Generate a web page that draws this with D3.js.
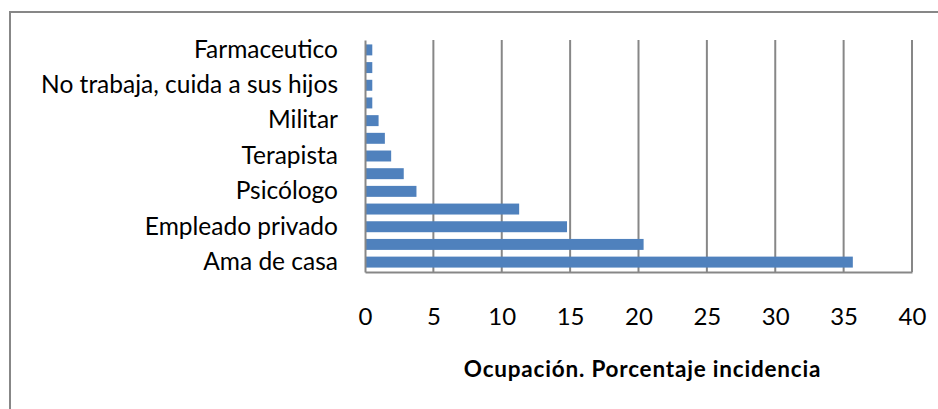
<!DOCTYPE html>
<html>
<head>
<meta charset="utf-8">
<title>Ocupación</title>
<script src="https://d3js.org/d3.v7.min.js"></script>
<style>
  body { margin: 0; background: #fff; }
  text { font-family: Lato, "Open Sans", sans-serif; fill: #000; }
</style>
</head>
<body>
<script>
// categorías de arriba hacia abajo (las sin rótulo visible quedan en blanco)
var categories = ["Farmaceutico", "", "No trabaja, cuida a sus hijos", "", "Militar", "",
                  "Terapista", "", "Psicólogo", "", "Empleado privado", "", "Ama de casa"];
// porcentaje de incidencia
var values = [0.46, 0.46, 0.46, 0.46, 0.92, 1.38, 1.84, 2.76, 3.69, 11.2, 14.7, 20.3, 35.6];
var xTicks = [0, 5, 10, 15, 20, 25, 30, 35, 40];
var xTitle = "Ocupación. Porcentaje incidencia";

var W = 938, H = 409;
var plot = {left: 365, right: 912, top: 40, bottom: 272};

var svg = d3.select("body").append("svg")
    .attr("width", W)
    .attr("height", H);

// marco exterior del gráfico
svg.append("path")
    .attr("d", "M10," + H + "V12H" + W)
    .attr("fill", "none")
    .attr("stroke", "#878787")
    .attr("stroke-width", 2);

var x = d3.scaleLinear().domain([0, 40]).range([plot.left, plot.right]);
var y = d3.scaleBand()
    .domain(d3.range(categories.length))
    .range([plot.top, plot.bottom])
    .paddingInner(0.38)
    .paddingOuter(0.25);

// líneas de división verticales
svg.append("g")
    .selectAll("line")
    .data(xTicks.slice(1))
    .enter().append("line")
      .attr("x1", function(d) { return x(d); })
      .attr("x2", function(d) { return x(d); })
      .attr("y1", plot.top)
      .attr("y2", plot.bottom)
      .attr("stroke", "#878787")
      .attr("stroke-width", 2);

// barras
svg.append("g")
    .selectAll("rect")
    .data(values)
    .enter().append("rect")
      .attr("x", x(0) + 1)
      .attr("y", function(d, i) { return y(i); })
      .attr("width", function(d) { return x(d) - x(0); })
      .attr("height", y.bandwidth())
      .attr("fill", "#4F81BD");

// eje X
var xAxis = svg.append("g")
    .attr("transform", "translate(0," + plot.bottom + ")")
    .call(d3.axisBottom(x).tickValues(xTicks).tickSize(0).tickPadding(36));
xAxis.select(".domain").attr("stroke", "#878787").attr("stroke-width", 2);
xAxis.selectAll("text").attr("font-size", 24).attr("font-family", "Lato, sans-serif");

// eje Y
var yAxis = svg.append("g")
    .attr("transform", "translate(" + plot.left + ",0)")
    .call(d3.axisLeft(y).tickSize(0).tickPadding(27)
        .tickFormat(function(i) { return categories[i]; }));
yAxis.select(".domain").attr("stroke", "#878787").attr("stroke-width", 2);
yAxis.selectAll("text").attr("font-size", 24.5).attr("font-family", "Lato, sans-serif");

// título del eje
svg.append("text")
    .attr("x", (plot.left + plot.right) / 2 + 4)
    .attr("y", 377)
    .attr("text-anchor", "middle")
    .attr("font-size", 22.5)
    .attr("font-weight", "bold")
    .attr("letter-spacing", 0.8)
    .text(xTitle);
</script>
</body>
</html>
